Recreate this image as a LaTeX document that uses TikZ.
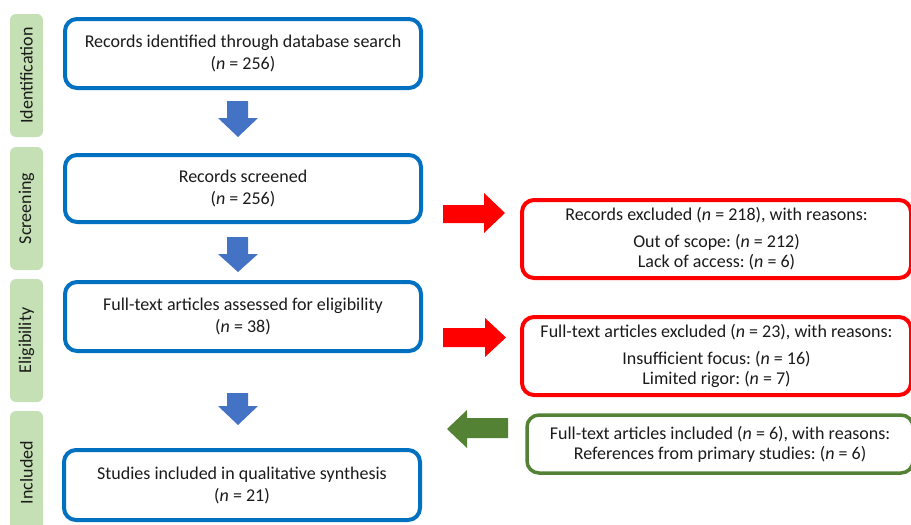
\documentclass[tikz,border=0pt]{standalone}
\usepackage{fontspec}
\setmainfont{Carlito}
\frenchspacing
\definecolor{boxblue}{HTML}{0070C0}
\definecolor{arrblue}{HTML}{4472C4}
\definecolor{boxred}{HTML}{FF0000}
\definecolor{boxgreen}{HTML}{548235}
\definecolor{sidegreen}{HTML}{C5E0B4}
\definecolor{txt}{HTML}{1A1A1A}
\begin{document}
\begin{tikzpicture}[x=1pt,y=-1pt,
  phase/.style={fill=sidegreen, rounded corners=6pt, minimum width=33pt, minimum height=123pt, inner sep=0pt, outer sep=0pt},
  phaselabel/.style={rotate=90, font=\fontsize{18}{20}\selectfont, text=txt},
  mainbox/.style={draw=boxblue, line width=4pt, rounded corners=12pt, minimum width=356pt, minimum height=69pt,
    align=center, font=\fontsize{18}{22}\selectfont, text=txt, inner sep=0pt},
  sidebox/.style={line width=4pt, rounded corners=12pt, align=center,
    font=\fontsize{18}{20}\selectfont, text=txt, inner sep=0pt}
]
\useasboundingbox (0,0) rectangle (911,525);

% phase labels
\node[phase] (pid) at (26.5,75.5) {};
\node[phaselabel] (tid) at (pid.center) {Identification};
\node[phase] (pscr) at (26.5,208.5) {};
\node[phaselabel] (tscr) at (pscr.center) {Screening};
\node[phase] (pel) at (26.5,340.5) {};
\node[phaselabel] (tel) at (pel.center) {Eligibility};
\node[phase] (pinc) at (26.5,472.5) {};
\node[phaselabel] (tinc) at (pinc.center) {Included};

% main boxes
\node[mainbox] (b1) at (243,53.5) {Records identified through database search\\(\textit{n} = 256)};
\node[mainbox, minimum height=67pt] (b2) at (243,188.5) {Records screened\\(\textit{n} = 256)};
\node[mainbox] (b3) at (243,316.5) {Full-text articles assessed for eligibility\\(\textit{n} = 38)};
\node[mainbox, minimum height=70pt] (b4) at (242,485) {Studies included in qualitative synthesis\\(\textit{n} = 21)};

% side boxes
\node[sidebox, draw=boxred, minimum width=389pt, minimum height=78pt] (r1) at (716.5,239)
  {Records excluded (\textit{n} = 218), with reasons:\\[7pt]Out of scope: (\textit{n} = 212)\\Lack of access: (\textit{n} = 6)};
\node[sidebox, draw=boxred, minimum width=389pt, minimum height=78pt] (r2) at (716.5,356)
  {Full-text articles excluded (\textit{n} = 23), with reasons:\\[7pt]Insufficient focus: (\textit{n} = 16)\\Limited rigor: (\textit{n} = 7)};
\node[sidebox, draw=boxgreen, line width=3.5pt, minimum width=386pt, minimum height=58pt] (g1) at (720,444)
  {Full-text articles included (\textit{n} = 6), with reasons:\\References from primary studies: (\textit{n} = 6)};

% blue down arrows
\fill[arrblue] (227,101) -- (248,101) -- (248,118) -- (258,118) -- (238,137) -- (218,118) -- (227,118) -- cycle;
\fill[arrblue] (227,237) -- (248,237) -- (248,254) -- (258,254) -- (238,272) -- (218,254) -- (227,254) -- cycle;
\fill[arrblue] (227,393) -- (248,393) -- (248,406) -- (258,406) -- (238,425) -- (218,406) -- (227,406) -- cycle;

% red right arrows
\fill[boxred] (443,205) -- (484,205) -- (484,193) -- (505,213) -- (484,233) -- (484,223) -- (443,223) -- cycle;
\fill[boxred] (443,328) -- (485,328) -- (485,318) -- (506,337.5) -- (485,357) -- (485,347) -- (443,347) -- cycle;

% green left arrow
\fill[boxgreen] (508,418) -- (467,418) -- (467,410) -- (447,429) -- (467,448) -- (467,438) -- (508,438) -- cycle;
\end{tikzpicture}
\end{document}
